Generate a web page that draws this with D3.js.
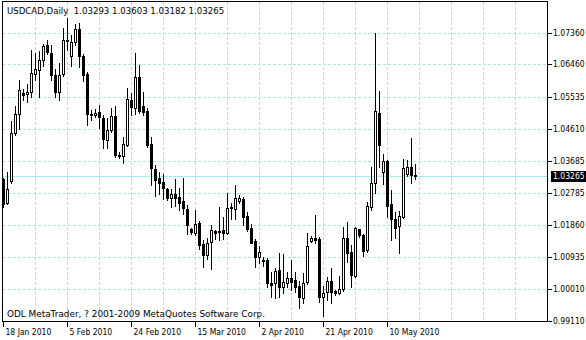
<!DOCTYPE html>
<html>
<head>
<meta charset="utf-8">
<script src="https://cdnjs.cloudflare.com/ajax/libs/d3/7.8.5/d3.min.js"></script>
<style>
  body { margin: 0; background: #fff; }
  svg { display: block; font-family: "DejaVu Sans", sans-serif; font-size: 8.6px; }
  .axis text { font-family: "DejaVu Sans Condensed", "DejaVu Sans", sans-serif; font-stretch: condensed; font-size: 8.5px; }
  .copy { font-size: 8.9px; }
</style>
</head>
<body>
<div class="mt_chart"></div>
<script>
//<data>-----------------------------------//
// USDCAD daily bars, 18 Jan 2010 .. 18 May 2010 (Sunday bars included)
var opens = [
  1.03158, 1.02490, 1.03129, 1.04495, 1.05048, 1.05650, 1.05622, 1.05659, 1.06194, 1.06323,
  1.06595, 1.07010, 1.06796, 1.06165, 1.05687, 1.06165, 1.07154, 1.06710, 1.07096, 1.07455,
  1.06696, 1.06180, 1.05034, 1.05034, 1.05085, 1.04925, 1.04318, 1.04576, 1.04971, 1.03874,
  1.03854, 1.04161, 1.05449, 1.05220, 1.06108, 1.05263, 1.05120, 1.04161, 1.03464, 1.03207,
  1.03086, 1.02886, 1.02628, 1.02748, 1.02657, 1.02528, 1.02319, 1.01726, 1.01631, 1.01912,
  1.01316, 1.01010, 1.01345, 1.01683, 1.01669, 1.01697, 1.01631, 1.02313, 1.02319, 1.02556,
  1.02605, 1.02107, 1.01774, 1.01391, 1.00915, 1.00866, 1.00866, 1.00198, 1.00179, 1.00560,
  1.00056, 1.00216, 1.00342, 1.00293, 1.00121, 0.99769, 1.00198, 1.01419, 1.01488, 1.01459,
  0.99815, 0.99913, 1.00245, 0.99964, 0.99930, 1.00027, 1.01488, 1.01076, 1.00408, 1.01726,
  1.01582, 1.01133, 1.02376, 1.03063, 1.05069, 1.03367, 1.03694, 1.02470, 1.02032, 1.01803,
  1.02089, 1.03344, 1.03522, 1.03293
];
var highs = [
  1.03215, 1.03387, 1.04848, 1.05277, 1.06022, 1.05765, 1.05908, 1.06868, 1.06796, 1.06853,
  1.07053, 1.07182, 1.07025, 1.06329, 1.06509, 1.07504, 1.07790, 1.07311, 1.07627, 1.07647,
  1.06767, 1.06252, 1.05163, 1.05191, 1.05306, 1.05020, 1.04934, 1.05220, 1.05277, 1.03968,
  1.04390, 1.05785, 1.05650, 1.06787, 1.06452, 1.05693, 1.05220, 1.04398, 1.03588, 1.03373,
  1.03330, 1.02929, 1.02900, 1.03178, 1.02943, 1.03207, 1.02442, 1.01769, 1.02299, 1.01984,
  1.01439, 1.01497, 1.01869, 1.01726, 1.02393, 1.02107, 1.02794, 1.02491, 1.03015, 1.02728,
  1.02680, 1.02241, 1.01898, 1.01468, 1.01267, 1.00961, 1.00924, 1.00531, 1.00637, 1.01058,
  1.01030, 1.00531, 1.00866, 1.00531, 1.00265, 1.00494, 1.01631, 1.01554, 1.02155, 1.01525,
  1.00121, 1.00388, 1.00628, 1.00007, 1.00408, 1.01820, 1.01963, 1.01296, 1.01812, 1.01755,
  1.01611, 1.02536, 1.03539, 1.07377, 1.05716, 1.03903, 1.03731, 1.02871, 1.02241, 1.02279,
  1.03751, 1.03731, 1.04352, 1.03603
];
var lows = [
  1.02384, 1.02470, 1.03072, 1.04447, 1.04619, 1.05449, 1.05392, 1.05535, 1.06022, 1.05535,
  1.06423, 1.06767, 1.06022, 1.05535, 1.05449, 1.06137, 1.06882, 1.06423, 1.07025, 1.06403,
  1.05994, 1.04733, 1.04877, 1.04963, 1.04648, 1.04075, 1.04075, 1.04533, 1.03831, 1.03780,
  1.03653, 1.04132, 1.05020, 1.05048, 1.05077, 1.05020, 1.04104, 1.03015, 1.02700, 1.02757,
  1.02614, 1.02585, 1.02384, 1.02413, 1.02299, 1.02198, 1.01611, 1.01611, 1.01582, 1.01167,
  1.00674, 1.00909, 1.00600, 1.01468, 1.01439, 1.01459, 1.01611, 1.02032, 1.02032, 1.02485,
  1.01869, 1.01697, 1.01339, 1.00657, 1.00789, 1.00694, 1.00084, 0.99815, 0.99769, 0.99807,
  0.99913, 1.00084, 1.00007, 0.99958, 0.99500, 0.99626, 1.00179, 1.01396, 1.01345, 0.99672,
  0.99262, 0.99720, 0.99626, 0.99864, 0.99893, 0.99987, 1.00809, 1.00102, 1.00379, 1.01525,
  1.00981, 1.01096, 1.02299, 1.02794, 1.03539, 1.03043, 1.02107, 1.01439, 1.01488, 1.01076,
  1.02069, 1.03273, 1.03063, 1.03182
];
var closes = [
  1.02442, 1.02900, 1.04495, 1.05048, 1.05736, 1.05607, 1.05665, 1.06203, 1.06329, 1.06595,
  1.06996, 1.06787, 1.06165, 1.05687, 1.06165, 1.07154, 1.07111, 1.07111, 1.07455, 1.06690,
  1.06180, 1.05020, 1.04977, 1.05077, 1.04934, 1.04332, 1.04576, 1.04977, 1.03854, 1.03845,
  1.04181, 1.05470, 1.05235, 1.06108, 1.05134, 1.05077, 1.04132, 1.03459, 1.03158, 1.03080,
  1.02886, 1.02628, 1.02748, 1.02642, 1.02499, 1.02313, 1.01869, 1.01631, 1.01889, 1.01296,
  1.01010, 1.01339, 1.01697, 1.01640, 1.01683, 1.01603, 1.02347, 1.02370, 1.02634, 1.02634,
  1.02107, 1.01726, 1.01362, 1.00915, 1.01076, 1.00838, 1.00198, 1.00150, 1.00531, 1.00056,
  1.00216, 1.00342, 1.00245, 1.00084, 0.99797, 1.00198, 1.01247, 1.01488, 1.01439, 0.99815,
  0.99913, 1.00245, 0.99913, 0.99930, 1.00027, 1.01488, 1.01058, 1.00408, 1.01774, 1.01554,
  1.01133, 1.02393, 1.03063, 1.05134, 1.04161, 1.03682, 1.02413, 1.02032, 1.01774, 1.02107,
  1.03493, 1.03522, 1.03301, 1.03265
];
var priceTicks = [1.07360, 1.06460, 1.05535, 1.04610, 1.03685, 1.02785, 1.01860, 1.00935, 1.00010, 0.99110];
var dateTickIdx = [0, 16, 32, 48, 64, 80, 96];
var dateTickLabels = ["18 Jan 2010", "5 Feb 2010", "24 Feb 2010", "15 Mar 2010", "2 Apr 2010", "21 Apr 2010", "10 May 2010"];
var symbol = "USDCAD,Daily";
var lastPrice = 1.03265;
var copyright = "ODL MetaTrader, ? 2001-2009 MetaQuotes Software Corp.";

//<setSize>--------------------------------//
var W = 586, H = 340;
var plot = { left: 3, top: 2, right: 548, bottom: 322 };
var fmt = d3.format(".5f");
var gridColor = "#b4e2e2", bidColor = "#a8ecec";

var bars = opens.map(function (o, i) {
    return { i: i, o: o, h: highs[i], l: lows[i], c: closes[i] };
});

// 4 px per bar, 136 slots across the plot
var x = d3.scaleLinear().domain([0, 136]).range([plot.left + 0.5, plot.right - 0.5]);
var y = d3.scaleLinear().domain([0.99090, 1.08257]).range([plot.bottom, plot.top]);
var px = function (v) { return Math.floor(v) + 0.5; };

var svg = d3.select(".mt_chart").append("svg")
    .attr("width", W).attr("height", H)
    .attr("shape-rendering", "crispEdges");

svg.append("defs").append("clipPath").attr("id", "plotClip")
    .append("rect").attr("x", plot.left).attr("y", plot.top)
    .attr("width", plot.right - plot.left).attr("height", plot.bottom - plot.top);

var g = svg.append("g").attr("clip-path", "url(#plotClip)");

//grid--------------------------------------//
g.selectAll(".hgrid").data(priceTicks).enter().append("line")
    .attr("x1", plot.left).attr("x2", plot.right)
    .attr("y1", function (d) { return px(y(d)); }).attr("y2", function (d) { return px(y(d)); })
    .attr("stroke", gridColor).attr("stroke-dasharray", "3,2");

g.selectAll(".vgrid").data(d3.range(8, 136, 8)).enter().append("line")
    .attr("x1", function (d) { return px(x(d)); }).attr("x2", function (d) { return px(x(d)); })
    .attr("y1", plot.top).attr("y2", plot.bottom)
    .attr("stroke", gridColor).attr("stroke-dasharray", "3,2");

//bid line-----------------------------------//
g.append("line")
    .attr("x1", plot.left).attr("x2", plot.right)
    .attr("y1", px(y(lastPrice))).attr("y2", px(y(lastPrice)))
    .attr("stroke", bidColor);

//candles------------------------------------//
var cg = g.selectAll(".bar").data(bars).enter().append("g");
cg.append("line")
    .attr("x1", function (d) { return px(x(d.i)); }).attr("x2", function (d) { return px(x(d.i)); })
    .attr("y1", function (d) { return Math.round(y(d.h)); })
    .attr("y2", function (d) { return Math.round(y(d.l)) + 1; })
    .attr("stroke", "#000");
cg.append("rect")
    .attr("x", function (d) { return px(x(d.i)) - 1; })
    .attr("y", function (d) { return px(y(Math.max(d.o, d.c))); })
    .attr("width", 2)
    .attr("height", function (d) { return Math.round(y(Math.min(d.o, d.c))) - Math.round(y(Math.max(d.o, d.c))); })
    .attr("fill", function (d) { return d.c >= d.o ? "#fff" : "#000"; })
    .attr("stroke", "#000");

//frame--------------------------------------//
svg.append("rect")
    .attr("x", plot.left - 0.5).attr("y", plot.top - 0.5)
    .attr("width", plot.right - plot.left).attr("height", plot.bottom - plot.top)
    .attr("fill", "none").attr("stroke", "#000");

//price axis---------------------------------//
var ya = svg.append("g").attr("class", "axis");
ya.selectAll("line").data(priceTicks).enter().append("line")
    .attr("x1", plot.right).attr("x2", plot.right + 4)
    .attr("y1", function (d) { return px(y(d)); }).attr("y2", function (d) { return px(y(d)); })
    .attr("stroke", "#000");
ya.selectAll("text").data(priceTicks).enter().append("text")
    .attr("x", plot.right + 5).attr("y", function (d) { return px(y(d)); })
    .attr("dy", "0.35em").attr("fill", "#000")
    .text(function (d) { return fmt(d); });

var yb = Math.round(y(lastPrice));
ya.append("rect").attr("x", plot.right + 3).attr("y", yb - 5)
    .attr("width", W - plot.right - 3).attr("height", 11).attr("fill", "#000");
ya.append("text").attr("x", plot.right + 5).attr("y", yb + 0.5)
    .attr("dy", "0.35em").attr("fill", "#fff").text(fmt(lastPrice));

//date axis----------------------------------//
var xa = svg.append("g").attr("class", "axis");
xa.selectAll("line").data(dateTickIdx).enter().append("line")
    .attr("x1", function (d) { return px(x(d)); }).attr("x2", function (d) { return px(x(d)); })
    .attr("y1", plot.bottom).attr("y2", plot.bottom + 5)
    .attr("stroke", "#000");
xa.selectAll("text").data(dateTickIdx).enter().append("text")
    .attr("x", function (d) { return px(x(d)) + 2; }).attr("y", 335)
    .attr("fill", "#000")
    .text(function (d, i) { return dateTickLabels[i]; });

//header / footer texts------------------------//
var last = bars[bars.length - 1];
svg.append("text").attr("x", 7).attr("y", 14).attr("fill", "#000")
    .text(symbol + "  " + [last.o, last.h, last.l, last.c].map(fmt).join(" "))
    .attr("xml:space", "preserve").style("white-space", "pre");
svg.append("text").attr("class", "copy").attr("x", 7).attr("y", 317).attr("fill", "#000").text(copyright);
</script>
</body>
</html>
